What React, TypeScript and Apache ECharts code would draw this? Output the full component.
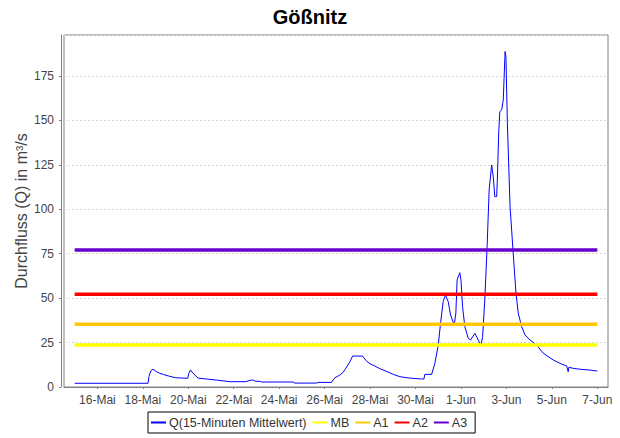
import React, { useEffect, useRef } from "react";
import * as echarts from "echarts";

const YEAR = 2013;
const chartTitle = "Gößnitz";
const yAxisName = "Durchfluss (Q) in m³/s";
const qName = "Q(15-Minuten Mittelwert)";

const qTimes = [
  "05-15 00:00", "05-18 05:30", "05-18 06:30", "05-18 08:20", "05-18 10:45", "05-18 14:40",
  "05-18 17:50", "05-18 22:00", "05-19 04:20", "05-19 10:45", "05-19 23:25", "05-20 00:30",
  "05-20 02:15", "05-20 05:00", "05-20 10:20", "05-20 19:10", "05-21 05:45", "05-21 19:50",
  "05-22 12:45", "05-22 15:05", "05-22 18:00", "05-22 20:25", "05-22 23:15", "05-23 03:35",
  "05-23 05:30", "05-24 14:40", "05-24 16:30", "05-25 15:25", "05-25 17:05", "05-26 07:10",
  "05-26 10:50", "05-26 16:05", "05-26 19:25", "05-26 22:20", "05-27 02:35", "05-27 05:30",
  "05-27 16:05", "05-27 19:30", "05-27 23:45", "05-28 05:00", "05-28 10:20", "05-28 17:45",
  "05-29 00:30", "05-29 07:25", "05-29 18:00", "05-30 06:25", "05-30 08:50", "05-30 09:50",
  "05-30 17:00", "05-30 20:25", "05-31 00:00", "05-31 02:25", "05-31 05:10", "05-31 07:40",
  "05-31 10:30", "05-31 13:00", "05-31 16:50", "05-31 18:35", "05-31 19:55", "05-31 22:45",
  "06-01 00:00", "06-01 01:40", "06-01 04:05", "06-01 07:40", "06-01 10:05", "06-01 14:40",
  "06-01 18:15", "06-01 21:05", "06-01 22:50", "06-02 01:10", "06-02 03:35", "06-02 05:45",
  "06-02 08:25", "06-02 10:05", "06-02 11:45", "06-02 13:40", "06-02 14:25", "06-02 15:50",
  "06-02 17:00", "06-02 19:00", "06-02 20:40", "06-02 22:35", "06-02 23:30", "06-03 01:00",
  "06-03 03:50", "06-03 07:10", "06-03 10:05", "06-03 12:30", "06-03 16:05", "06-03 19:40",
  "06-04 01:00", "06-04 07:55", "06-04 14:55", "06-05 01:25", "06-05 08:40", "06-05 15:35",
  "06-05 17:15", "06-05 18:00", "06-05 22:35", "06-06 05:45", "06-06 16:20", "06-07 00:00",
];

const qValues = [
  2.1, 2.1, 6.0, 9.0, 10.0, 8.5,
  7.7, 7.0, 6.0, 5.2, 4.9, 7.5,
  9.6, 7.7, 5.0, 4.5, 3.9, 3.0,
  3.0, 3.4, 3.9, 3.9, 3.2, 3.2,
  2.8, 2.8, 2.2, 2.2, 2.6, 2.6,
  5.2, 6.7, 8.2, 10.5, 14.1, 17.4,
  17.4, 15.0, 13.1, 11.8, 10.3, 8.7,
  7.1, 5.8, 5.0, 4.5, 4.5, 7.1,
  7.1, 13.3, 23.6, 35.8, 48.0, 51.8,
  48.0, 40.5, 34.9, 41.5, 60.2, 64.3,
  60.2, 45.2, 33.9, 27.4, 26.4, 30.2,
  26.4, 23.2, 28.3, 49.0, 79.0, 110.9,
  124.9, 118.3, 107.1, 107.1, 116.5, 142.8,
  154.9, 155.9, 161.5, 188.7, 185.9, 148.4,
  101.5, 75.2, 52.7, 41.5, 33.9, 29.3,
  26.4, 23.6, 19.0, 15.2, 13.3, 11.8,
  8.6, 11.1, 10.5, 10.0, 9.5, 9.0,
];

const thresholdNames = ["MB", "A1", "A2", "A3"];
const thresholdValues = [23.6, 35.3, 52.2, 77.1];
const thresholdColors = ["#ffff00", "#ffc800", "#ff0000", "#6600cc"];

const xTickDates = [
  "05-16 00:00", "05-18 00:00", "05-20 00:00", "05-22 00:00", "05-24 00:00", "05-26 00:00",
  "05-28 00:00", "05-30 00:00", "06-01 00:00", "06-03 00:00", "06-05 00:00", "06-07 00:00",
];
const xTickLabels = [
  "16-Mai", "18-Mai", "20-Mai", "22-Mai", "24-Mai", "26-Mai",
  "28-Mai", "30-Mai", "1-Jun", "3-Jun", "5-Jun", "7-Jun",
];

const yMin = 0;
const yMax = 198;
const yInterval = 25;

function parseT(s: string): number {
  const [md, hm] = s.split(" ");
  const [mo, d] = md.split("-").map(Number);
  const [h, mi] = hm.split(":").map(Number);
  return Date.UTC(YEAR, mo - 1, d, h, mi);
}

const DAY = 86400000;
const FONT = "Liberation Sans";

export default function App() {
  const ref = useRef<HTMLDivElement>(null);
  useEffect(() => {
    if (!ref.current) return;
    const chart = echarts.init(ref.current, undefined, { renderer: "svg" });
    const tStart = parseT(qTimes[0]);
    const tEnd = parseT(qTimes[qTimes.length - 1]);
    const xTickVals = xTickDates.map(parseT);
    const qData = qTimes.map((t, i) => [parseT(t), qValues[i]]);

    const series: any[] = [
      {
        name: qName,
        type: "line",
        data: qData,
        showSymbol: false,
        symbol: "none",
        color: "#0000ff",
        lineStyle: { color: "#0000ff", width: 1 },
        z: 2,
      },
      ...thresholdNames.map((n, i) => ({
        name: n,
        type: "line",
        data: [
          [tStart, thresholdValues[i]],
          [tEnd, thresholdValues[i]],
        ],
        showSymbol: false,
        symbol: "none",
        color: thresholdColors[i],
        lineStyle: { color: thresholdColors[i], width: 3.5 },
        z: 3 + i,
      })),
    ];

    chart.setOption({
      animation: false,
      backgroundColor: "#ffffff",
      title: {
        text: chartTitle,
        left: "center",
        top: 2,
        textStyle: { fontFamily: FONT, fontSize: 20, fontWeight: "bold", color: "#000" },
      },
      legend: {
        data: [qName, ...thresholdNames],
        left: 148,
        top: 412,
        icon: "rect",
        itemWidth: 15,
        itemHeight: 2,
        itemGap: 6,
        padding: [4, 8, 4, 3],
        borderColor: "#000",
        borderWidth: 1,
        backgroundColor: "#fff",
        textStyle: { fontFamily: FONT, fontSize: 12.5, color: "#333", padding: [0, 0, 0, -2] },
      },
      grid: {
        left: 64,
        top: 35,
        right: 12,
        bottom: 51,
        show: true,
        borderColor: "#808080",
        borderWidth: 1,
        backgroundColor: "#fff",
      },
      xAxis: {
        type: "value",
        min: tStart - 0.47 * DAY,
        max: tEnd + 0.47 * DAY,
        offset: 3,
        axisLine: { show: true, lineStyle: { color: "#808080" } },
        axisTick: { show: true, length: 2, customValues: xTickVals, lineStyle: { color: "#808080" } },
        axisLabel: {
          customValues: xTickVals,
          margin: 4,
          fontFamily: FONT,
          fontSize: 12,
          color: "#444",
          formatter: (v: number) => {
            const idx = xTickVals.indexOf(v);
            return idx >= 0 ? xTickLabels[idx] : "";
          },
        },
        splitLine: { show: false },
      },
      yAxis: {
        type: "value",
        min: yMin,
        max: yMax,
        interval: yInterval,
        offset: 3,
        name: yAxisName,
        nameLocation: "middle",
        nameGap: 32,
        nameMoveOverlap: false,
        nameTextStyle: { fontFamily: FONT, fontSize: 16, color: "#444" },
        axisLine: { show: true, lineStyle: { color: "#808080" } },
        axisTick: { show: true, length: 2, lineStyle: { color: "#808080" } },
        axisLabel: {
          margin: 7,
          fontFamily: FONT,
          fontSize: 12,
          color: "#444",
          showMaxLabel: false,
        },
        splitLine: { show: true, lineStyle: { color: "#d8d8d8", type: [2, 2], width: 1 } },
      },
      series,
    });
    return () => chart.dispose();
  }, []);
  return (
    <div
      ref={ref}
      style={{ position: "fixed", left: 0, top: 0, width: 620, height: 438 }}
    />
  );
}
